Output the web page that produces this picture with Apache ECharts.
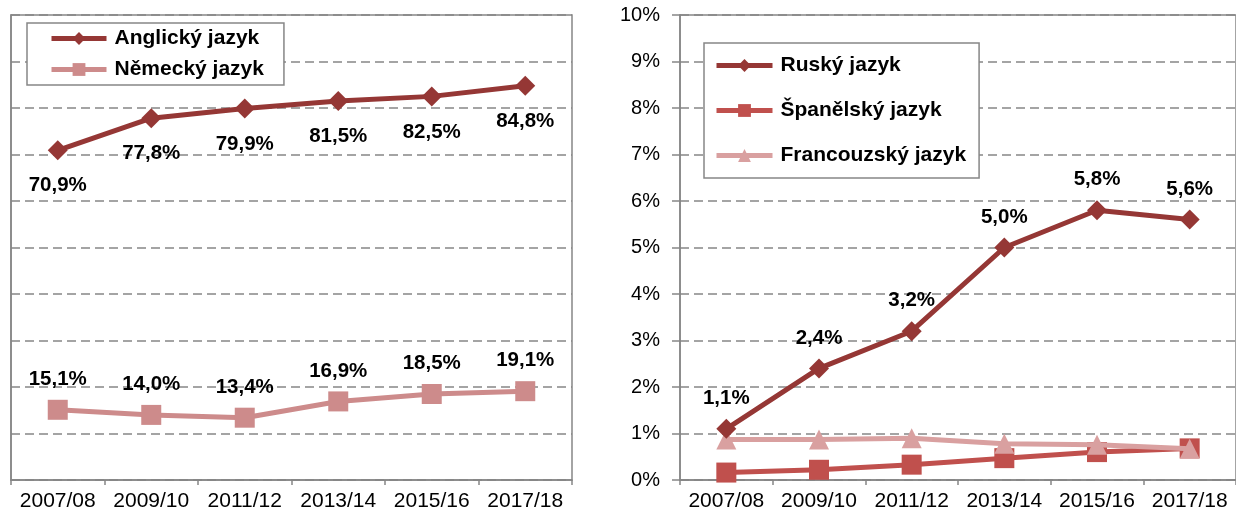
<!DOCTYPE html>
<html>
<head>
<meta charset="utf-8">
<script src="https://cdn.jsdelivr.net/npm/echarts@6/dist/echarts.min.js"></script>
<style>
  html, body { margin: 0; padding: 0; background: #fff; }
  #chart { width: 1236px; height: 513px; }
</style>
</head>
<body>
<div id="chart"></div>
<script>
const years = ['2007/08', '2009/10', '2011/12', '2013/14', '2015/16', '2017/18']

// levá část (procenta)
const anglicky = [70.9, 77.8, 79.9, 81.5, 82.5, 84.8]
const nemecky = [15.1, 14.0, 13.4, 16.9, 18.5, 19.1]

// pravá část (procenta)
const rusky = [1.1, 2.4, 3.2, 5.0, 5.8, 5.6]
const spanelsky = [0.16, 0.22, 0.33, 0.47, 0.6, 0.68]
const francouzsky = [0.87, 0.87, 0.9, 0.78, 0.76, 0.67]

const fmt = v => v.toFixed(1).replace('.', ',') + '%'
const font = 'Liberation Sans, Arial, sans-serif'
const axisGrey = '#868686'

const labelStyle = (pos, dist) => ({
  show: true,
  position: pos,
  distance: dist,
  fontFamily: font,
  fontWeight: 'bold',
  fontSize: 20.5,
  color: '#000',
  formatter: p => fmt(p.value)
})

const xAxisBase = {
  type: 'category',
  data: years,
  boundaryGap: true,
  axisLine: { lineStyle: { color: axisGrey, width: 1.5 } },
  axisTick: { show: true, interval: 0, length: 5, lineStyle: { color: axisGrey, width: 1.5 } },
  axisLabel: { interval: 0, color: '#000', fontFamily: font, fontSize: 21, margin: 11 }
}

const splitLine = { show: true, lineStyle: { color: '#878787', type: [9, 5], width: 1.5 } }

const legendText = { fontFamily: font, fontWeight: 'bold', fontSize: 21, color: '#000', padding: [0, 0, 0, 3] }

const chart = echarts.init(document.getElementById('chart'))
const option = {
  animation: false,
  grid: [
    { left: 11, top: 15, width: 561, bottom: 33, show: true, borderColor: axisGrey, borderWidth: 1.5 },
    { left: 680, top: 15, width: 566, bottom: 33, show: true, borderColor: axisGrey, borderWidth: 1.5 }
  ],
  legend: [
    {
      data: ['Anglický jazyk', 'Německý jazyk'],
      left: 27, top: 23,
      orient: 'vertical',
      padding: [5, 20, 5, 22],
      itemGap: 10,
      itemWidth: 55, itemHeight: 16,
      lineStyle: { width: 5 },
      backgroundColor: '#fff',
      borderColor: axisGrey, borderWidth: 1.5,
      textStyle: legendText
    },
    {
      data: ['Ruský jazyk', 'Španělský jazyk', 'Francouzský jazyk'],
      left: 704, top: 43,
      orient: 'vertical',
      padding: [12, 13, 12, 10],
      itemGap: 24,
      itemWidth: 56, itemHeight: 16,
      lineStyle: { width: 5 },
      backgroundColor: '#fff',
      borderColor: axisGrey, borderWidth: 1.5,
      textStyle: legendText
    }
  ],
  xAxis: [
    Object.assign({ gridIndex: 0 }, xAxisBase),
    Object.assign({ gridIndex: 1 }, xAxisBase)
  ],
  yAxis: [
    {
      gridIndex: 0, type: 'value', min: 0, max: 100, interval: 10,
      axisLine: { show: true, lineStyle: { color: axisGrey, width: 1.5 } },
      axisTick: { show: false },
      axisLabel: { show: false },
      splitLine: splitLine
    },
    {
      gridIndex: 1, type: 'value', min: 0, max: 10, interval: 1,
      axisLine: { show: true, lineStyle: { color: axisGrey, width: 1.5 } },
      axisTick: { show: true, length: 8, lineStyle: { color: axisGrey, width: 1.5 } },
      axisLabel: { color: '#000', fontFamily: font, fontSize: 20, margin: 20, formatter: v => v + '%' },
      splitLine: splitLine
    }
  ],
  series: [
    {
      name: 'Anglický jazyk', type: 'line', xAxisIndex: 0, yAxisIndex: 0,
      data: anglicky,
      symbol: 'diamond', symbolSize: 20,
      lineStyle: { width: 5, color: '#953735' },
      itemStyle: { color: '#953735' },
      label: labelStyle('bottom', 15)
    },
    {
      name: 'Německý jazyk', type: 'line', xAxisIndex: 0, yAxisIndex: 0,
      data: nemecky,
      symbol: 'rect', symbolSize: 20,
      lineStyle: { width: 5, color: '#CD8B8B' },
      itemStyle: { color: '#CD8B8B' },
      label: labelStyle('top', 10)
    },
    {
      name: 'Francouzský jazyk', type: 'line', xAxisIndex: 1, yAxisIndex: 1,
      data: francouzsky,
      symbol: 'triangle', symbolSize: 20,
      lineStyle: { width: 5, color: '#D9A0A0' },
      itemStyle: { color: '#D9A0A0' },
      z: 3
    },
    {
      name: 'Španělský jazyk', type: 'line', xAxisIndex: 1, yAxisIndex: 1,
      data: spanelsky,
      symbol: 'rect', symbolSize: 20,
      lineStyle: { width: 5, color: '#C0504D' },
      itemStyle: { color: '#C0504D' },
      z: 2
    },
    {
      name: 'Ruský jazyk', type: 'line', xAxisIndex: 1, yAxisIndex: 1,
      data: rusky,
      symbol: 'diamond', symbolSize: 20,
      lineStyle: { width: 5, color: '#953735' },
      itemStyle: { color: '#953735' },
      label: labelStyle('top', 10),
      z: 4
    }
  ]
}
chart.setOption(option)
window.addEventListener('resize', () => chart.resize())
</script>
</body>
</html>
